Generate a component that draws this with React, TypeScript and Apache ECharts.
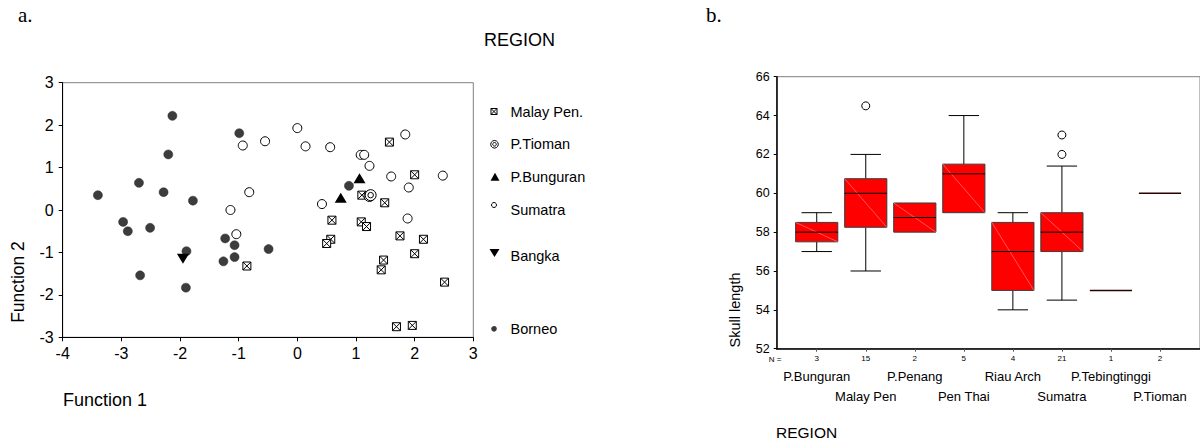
import React, { useEffect, useRef } from 'react';
import * as echarts from 'echarts';

// ---------- Panel a: discriminant scores (Function 1, Function 2) ----------
const malayPen: number[][] = [
  [1.57, 1.6], [2.0, 0.83], [1.1, 0.35], [1.49, 0.17], [0.59, -0.24], [1.09, -0.28],
  [1.18, -0.39], [1.75, -0.61], [2.15, -0.69], [0.57, -0.69], [0.5, -0.79], [2.0, -1.03],
  [1.47, -1.18], [1.43, -1.41], [2.51, -1.7], [1.69, -2.75], [1.96, -2.72], [-0.86, -1.32],
];
const pTioman: number[][] = [[1.23, 0.33], [1.25, 0.35]];
const pBunguran: number[][] = [[0.74, 0.29], [1.06, 0.75]];
const sumatra: number[][] = [
  [-0.93, 1.52], [-0.82, 0.42], [-1.14, 0.0], [-1.04, -0.57], [0.0, 1.93], [-0.55, 1.62],
  [0.14, 1.5], [0.56, 1.48], [1.08, 1.3], [1.14, 1.3], [1.23, 1.04], [1.84, 1.78],
  [1.6, 0.79], [2.48, 0.81], [1.9, 0.53], [0.42, 0.14], [1.88, -0.2],
];
const bangka: number[][] = [[-1.95, -1.15]];
const borneo: number[][] = [
  [-3.4, 0.35], [-2.13, 2.22], [-2.2, 1.31], [-2.7, 0.64], [-2.28, 0.42], [-1.78, 0.22],
  [-2.97, -0.28], [-2.89, -0.5], [-2.51, -0.42], [-2.68, -1.54], [-1.89, -0.97], [-1.9, -1.83],
  [-0.99, 1.81], [-1.23, -0.67], [-1.07, -0.83], [-1.07, -1.11], [-1.26, -1.21], [0.88, 0.57],
  [-0.49, -0.92],
];
const legendNames: string[] = ['Malay Pen.', 'P.Tioman', 'P.Bunguran', 'Sumatra', 'Bangka', 'Borneo'];

// ---------- Panel b: skull length box plot ----------
const regions: string[] = ['P.Bunguran', 'Malay Pen', 'P.Penang', 'Pen Thai', 'Riau Arch', 'Sumatra', 'P.Tebingtinggi', 'P.Tioman'];
const counts: number[] = [3, 15, 2, 5, 4, 21, 1, 2];
const lowWhisker: number[] = [57, 56, 58, 59, 54, 54.5, 55, 60];
const q1: number[] = [57.5, 58.25, 58, 59, 55, 57, 55, 60];
const median: number[] = [58, 60, 58.75, 61, 57, 58, 55, 60];
const q3: number[] = [58.5, 60.75, 59.5, 61.5, 58.5, 59, 55, 60];
const highWhisker: number[] = [59, 62, 59.5, 64, 59, 61.4, 55, 60];
const outliers: number[][] = [[1, 64.5], [5, 62], [5, 63]];

const SANS = 'Liberation Sans, Arial, sans-serif';
const SERIF = 'Liberation Serif, Times New Roman, serif';

const BOX_X = 'path://M0,0L10,0L10,10L0,10Z M0,0L10,10 M10,0L0,10';
const RING2 = 'path://M0,6A6,6 0 1,0 12,6A6,6 0 1,0 0,6Z M3,6A3,3 0 1,0 9,6A3,3 0 1,0 3,6Z';

function buildOption(): any {
  const boxData = regions.map((_, i) => [i, lowWhisker[i], q1[i], median[i], q3[i], highWhisker[i]]);

  const legendRowsY = [111.5, 144.3, 177.3, 210, 256, 329.3];
  const lx = 494;
  const legendGraphics: any[] = [];
  // symbols
  legendGraphics.push({ type: 'rect', shape: { x: lx - 3, y: legendRowsY[0] - 3, width: 6, height: 6 }, style: { fill: '#fff', stroke: '#000', lineWidth: 1 } });
  legendGraphics.push({ type: 'line', shape: { x1: lx - 3, y1: legendRowsY[0] - 3, x2: lx + 3, y2: legendRowsY[0] + 3 }, style: { stroke: '#000', lineWidth: 1 } });
  legendGraphics.push({ type: 'line', shape: { x1: lx + 3, y1: legendRowsY[0] - 3, x2: lx - 3, y2: legendRowsY[0] + 3 }, style: { stroke: '#000', lineWidth: 1 } });
  legendGraphics.push({ type: 'circle', shape: { cx: lx + 0.5, cy: legendRowsY[1], r: 3.8 }, style: { fill: '#fff', stroke: '#000', lineWidth: 1 } });
  legendGraphics.push({ type: 'circle', shape: { cx: lx + 0.5, cy: legendRowsY[1], r: 1.8 }, style: { fill: '#fff', stroke: '#000', lineWidth: 1 } });
  legendGraphics.push({ type: 'polygon', shape: { points: [[lx + 1, legendRowsY[2] - 4.5], [lx + 5.5, legendRowsY[2] + 3.5], [lx - 3.5, legendRowsY[2] + 3.5]] }, style: { fill: '#000' } });
  legendGraphics.push({ type: 'circle', shape: { cx: lx, cy: legendRowsY[3] - 5, r: 2.5 }, style: { fill: '#fff', stroke: '#000', lineWidth: 1 } });
  legendGraphics.push({ type: 'polygon', shape: { points: [[lx - 4.5, legendRowsY[4] - 7], [lx + 5.5, legendRowsY[4] - 7], [lx + 0.5, legendRowsY[4] + 1]] }, style: { fill: '#000' } });
  legendGraphics.push({ type: 'circle', shape: { cx: lx, cy: legendRowsY[5] - 0.5, r: 2.8 }, style: { fill: '#3a3a3a' } });
  legendNames.forEach((name, i) => {
    legendGraphics.push({
      type: 'text', x: 510.5, y: legendRowsY[i],
      style: { text: name, font: `14.5px ${SANS}`, fill: '#000', textVerticalAlign: 'middle' },
    });
  });

  const texts: any[] = [
    { type: 'text', x: 18, y: 4, style: { text: 'a.', font: `21px ${SERIF}`, fill: '#000' } },
    { type: 'text', x: 706, y: 4, style: { text: 'b.', font: `21px ${SERIF}`, fill: '#000' } },
    { type: 'text', x: 484, y: 31, style: { text: 'REGION', font: `18px ${SANS}`, fill: '#000' } },
    { type: 'text', x: 63, y: 400, style: { text: 'Function 1', font: `18px ${SANS}`, fill: '#000', textVerticalAlign: 'middle' } },
    { type: 'text', x: 17.5, y: 282, rotation: Math.PI / 2, style: { text: 'Function 2', font: `17.5px ${SANS}`, fill: '#000', textAlign: 'center', textVerticalAlign: 'middle' } },
    { type: 'text', x: 735, y: 310, rotation: Math.PI / 2, style: { text: 'Skull length', font: `14.5px ${SANS}`, fill: '#000', textAlign: 'center', textVerticalAlign: 'middle' } },
    { type: 'text', x: 776, y: 432, style: { text: 'REGION', font: `15.5px ${SANS}`, fill: '#000', textVerticalAlign: 'middle' } },
    { type: 'text', x: 775, y: 359.5, style: { text: 'N =', font: `8px ${SANS}`, fill: '#000', textAlign: 'center', textVerticalAlign: 'middle' } },
  ];

  const catAxisBase = {
    type: 'category', gridIndex: 2, data: regions, position: 'bottom',
    axisLine: { show: false }, axisTick: { show: false }, splitLine: { show: false },
  };

  return {
    animation: false,
    backgroundColor: '#fff',
    grid: [
      { left: 62.7, right: 1200 - 473.3, top: 82.7, bottom: 443 - 337.3, show: true, borderColor: '#808080', borderWidth: 1 },
      { left: 776.7, right: 0, top: 76.7, bottom: 443 - 348.7, show: true, borderColor: '#808080', borderWidth: 1 },
      { left: 792.2, right: 15.5, top: 76.7, bottom: 443 - 348.7 },
    ],
    xAxis: [
      {
        type: 'value', gridIndex: 0, min: -4, max: 3, interval: 1,
        axisLine: { show: true, onZero: false, lineStyle: { color: '#000', width: 1 } },
        axisTick: { show: true, length: 4, lineStyle: { color: '#000' } },
        splitLine: { show: false },
        axisLabel: { fontSize: 16, color: '#000', fontFamily: SANS, margin: 8 },
      },
      {
        type: 'value', gridIndex: 1, min: 0, max: 1,
        axisLine: { show: true, onZero: false, lineStyle: { color: '#000', width: 1.5 } },
        axisTick: { show: false }, axisLabel: { show: false }, splitLine: { show: false },
      },
      {
        ...catAxisBase,
        axisTick: { show: true, alignWithLabel: true, length: 3, lineStyle: { color: '#555' } },
        axisLabel: { interval: 0, fontSize: 8, color: '#000', fontFamily: SANS, margin: 6, formatter: (_v: string, i: number) => String(counts[i]) },
      },
      {
        ...catAxisBase,
        axisLabel: { interval: 0, fontSize: 13, color: '#000', fontFamily: SANS, margin: 21, formatter: (v: string, i: number) => (i % 2 === 0 ? v : '') },
      },
      {
        ...catAxisBase,
        axisLabel: { interval: 0, fontSize: 13, color: '#000', fontFamily: SANS, margin: 41, formatter: (v: string, i: number) => (i % 2 === 1 ? v : '') },
      },
    ],
    yAxis: [
      {
        type: 'value', gridIndex: 0, min: -3, max: 3, interval: 1,
        axisLine: { show: true, onZero: false, lineStyle: { color: '#000', width: 1 } },
        axisTick: { show: true, length: 4, lineStyle: { color: '#000' } },
        splitLine: { show: false },
        axisLabel: { fontSize: 16, color: '#000', fontFamily: SANS, margin: 9 },
      },
      {
        type: 'value', gridIndex: 1, min: 52, max: 66, interval: 2,
        axisLine: { show: true, onZero: false, lineStyle: { color: '#000', width: 1.5 } },
        axisTick: { show: true, length: 3, lineStyle: { color: '#000' } },
        splitLine: { show: false },
        axisLabel: { fontSize: 12.5, color: '#000', fontFamily: SANS, margin: 7 },
      },
      { type: 'value', gridIndex: 2, min: 52, max: 66, show: false },
    ],
    series: [
      {
        name: 'Malay Pen.', type: 'scatter', xAxisIndex: 0, yAxisIndex: 0, data: malayPen,
        symbol: BOX_X, symbolSize: 8, itemStyle: { color: '#fff', borderColor: '#000', borderWidth: 1, opacity: 1 },
      },
      {
        name: 'Sumatra', type: 'scatter', xAxisIndex: 0, yAxisIndex: 0, data: sumatra,
        symbol: 'circle', symbolSize: 9, itemStyle: { color: '#fff', borderColor: '#000', borderWidth: 1, opacity: 1 },
      },
      {
        name: 'P.Tioman', type: 'scatter', xAxisIndex: 0, yAxisIndex: 0, data: pTioman,
        symbol: RING2, symbolSize: 11, itemStyle: { color: '#fff', borderColor: '#000', borderWidth: 1, opacity: 1 },
      },
      {
        name: 'Borneo', type: 'scatter', xAxisIndex: 0, yAxisIndex: 0, data: borneo,
        symbol: 'circle', symbolSize: 9, itemStyle: { color: '#3c3c3c', borderColor: '#2a2a2a', borderWidth: 0.5, opacity: 1 },
      },
      {
        name: 'P.Bunguran', type: 'scatter', xAxisIndex: 0, yAxisIndex: 0, data: pBunguran,
        symbol: 'triangle', symbolSize: [12, 10], itemStyle: { color: '#000', opacity: 1 },
      },
      {
        name: 'Bangka', type: 'scatter', xAxisIndex: 0, yAxisIndex: 0, data: bangka,
        symbol: 'triangle', symbolRotate: 180, symbolSize: [12, 10], itemStyle: { color: '#000', opacity: 1 },
      },
      {
        name: 'Skull length', type: 'custom', xAxisIndex: 2, yAxisIndex: 2, data: boxData,
        encode: { x: 0, y: [1, 2, 3, 4, 5] },
        renderItem: (_params: any, api: any) => {
          const idx = api.value(0);
          const lo = api.value(1), a = api.value(2), m = api.value(3), b = api.value(4), hi = api.value(5);
          const band = api.size([1, 0])[0];
          const bw = band * 0.86;
          const cw = band * 0.62;
          const pLo = api.coord([idx, lo]);
          const pA = api.coord([idx, a]);
          const pM = api.coord([idx, m]);
          const pB = api.coord([idx, b]);
          const pHi = api.coord([idx, hi]);
          const cx = pM[0];
          const children: any[] = [];
          const lineStyle = { stroke: '#000', lineWidth: 1 };
          if (hi > b) {
            children.push({ type: 'line', shape: { x1: cx, y1: pB[1], x2: cx, y2: pHi[1] }, style: lineStyle });
            children.push({ type: 'line', shape: { x1: cx - cw / 2, y1: pHi[1], x2: cx + cw / 2, y2: pHi[1] }, style: lineStyle });
          }
          if (lo < a) {
            children.push({ type: 'line', shape: { x1: cx, y1: pA[1], x2: cx, y2: pLo[1] }, style: lineStyle });
            children.push({ type: 'line', shape: { x1: cx - cw / 2, y1: pLo[1], x2: cx + cw / 2, y2: pLo[1] }, style: lineStyle });
          }
          if (b > a) {
            children.push({ type: 'rect', shape: { x: cx - bw / 2, y: pB[1], width: bw, height: pA[1] - pB[1] }, style: { fill: '#ff0000', stroke: '#3c3c3c', lineWidth: 1 } });
            children.push({ type: 'line', shape: { x1: cx - bw / 2, y1: pB[1], x2: cx + bw / 2, y2: pA[1] }, style: { stroke: '#ff9090', lineWidth: 0.6 } });
            children.push({ type: 'line', shape: { x1: cx - bw / 2, y1: pM[1], x2: cx + bw / 2, y2: pM[1] }, style: lineStyle });
          } else {
            children.push({ type: 'line', shape: { x1: cx - bw / 2, y1: pM[1], x2: cx + bw / 2, y2: pM[1] }, style: { stroke: '#2a0000', lineWidth: 1.5 } });
          }
          return { type: 'group', children };
        },
      },
      {
        name: 'Outliers', type: 'scatter', xAxisIndex: 2, yAxisIndex: 2, data: outliers,
        symbol: 'circle', symbolSize: 8, itemStyle: { color: '#fff', borderColor: '#000', borderWidth: 1, opacity: 1 },
      },
    ],
    graphic: [...texts, ...legendGraphics],
  };
}

export default function App() {
  const ref = useRef<HTMLDivElement>(null);
  useEffect(() => {
    if (!ref.current) return;
    const chart = echarts.init(ref.current, null, { renderer: 'svg' });
    chart.setOption(buildOption());
    return () => chart.dispose();
  }, []);
  return <div ref={ref} style={{ position: 'absolute', left: 0, top: 0, width: 1200, height: 443, background: '#fff' }} />;
}
